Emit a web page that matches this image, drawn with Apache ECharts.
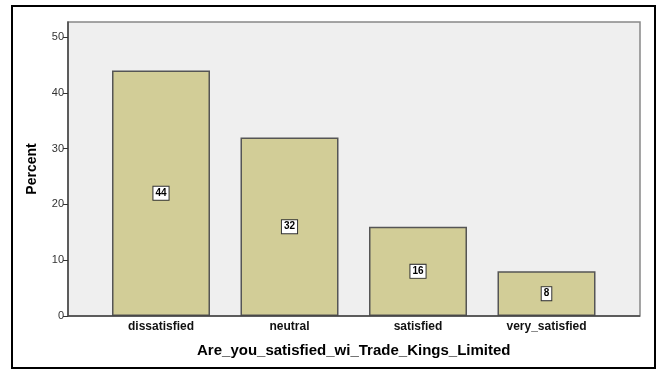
<!DOCTYPE html>
<html>
<head>
<meta charset="utf-8">
<script src="https://cdn.jsdelivr.net/npm/echarts@6/dist/echarts.min.js"></script>
<style>
  html, body { margin: 0; padding: 0; background: #fff; }
  #main { width: 660px; height: 370px; }
</style>
</head>
<body>
<div id="main"></div>
<script>
// categories and percent values
var categories = ['dissatisfied', 'neutral', 'satisfied', 'very_satisfied'];
var percents = [44, 32, 16, 8];
var yTicks = [0, 10, 20, 30, 40, 50];

var myChart = echarts.init(document.getElementById('main'));
myChart.setOption({
    backgroundColor: '#fff',
    animation: false,
    textStyle: {fontFamily: 'Liberation Sans, Arial, sans-serif'},
    graphic: [
        // outer frame
        {type: 'rect', z: -10, shape: {x: 12, y: 6, width: 643, height: 362},
         style: {fill: '#fff', stroke: '#000', lineWidth: 2}},
        // plot area
        {type: 'rect', z: -5, shape: {x: 68, y: 22, width: 572, height: 294},
         style: {fill: '#efefef', stroke: '#888', lineWidth: 1.5}},
        {type: 'line', z: 5, shape: {x1: 68, y1: 316, x2: 640, y2: 316},
         style: {stroke: '#444', lineWidth: 1.5}}
    ],
    grid: {left: 96.75, right: 49.25, top: 22, bottom: 54},
    xAxis: {
        type: 'category',
        data: categories,
        name: 'Are_you_satisfied_wi_Trade_Kings_Limited',
        nameLocation: 'middle',
        nameGap: 27,
        nameTextStyle: {fontSize: 15, fontWeight: 'bold', color: '#000'},
        axisLine: {show: false},
        axisTick: {alignWithLabel: true, length: 4, lineStyle: {color: '#333'}},
        axisLabel: {fontSize: 12, fontWeight: 'bold', color: '#111', margin: 5}
    },
    yAxis: {
        type: 'value',
        min: 0,
        max: 52.7,
        interval: 10,
        offset: 28.75,
        name: 'Percent',
        nameLocation: 'middle',
        nameGap: 29,
        nameTextStyle: {fontSize: 14, fontWeight: 'bold', color: '#000'},
        splitLine: {show: false},
        axisLine: {show: true, lineStyle: {color: '#444', width: 1.5}},
        axisTick: {show: true, length: 5, customValues: yTicks, lineStyle: {color: '#333'}},
        axisLabel: {fontSize: 11, color: '#333', margin: 4, customValues: yTicks}
    },
    series: [{
        type: 'bar',
        data: percents,
        barWidth: 98,
        itemStyle: {color: '#d2cd97', borderColor: '#555', borderWidth: 1.5},
        label: {
            show: true,
            position: 'inside',
            fontSize: 10,
            fontWeight: 'bold',
            color: '#000',
            backgroundColor: '#fff',
            borderColor: '#333',
            borderWidth: 1,
            padding: [2, 2, 1, 2]
        }
    }]
});
</script>
</body>
</html>
